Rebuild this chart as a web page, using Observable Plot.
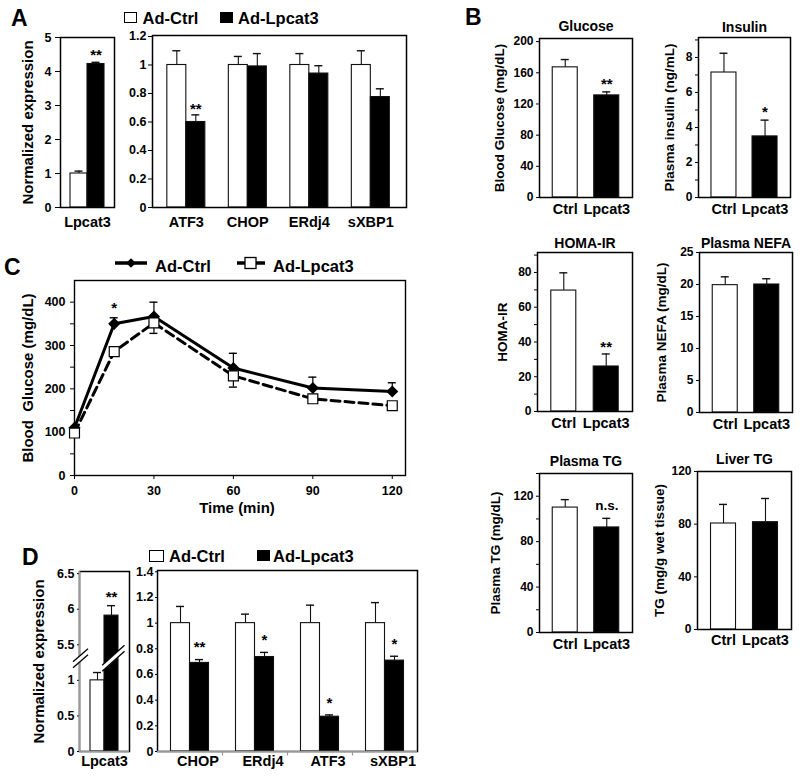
<!DOCTYPE html>
<html><head><meta charset="utf-8">
<script src="https://cdn.jsdelivr.net/npm/d3@7"></script>
<script src="https://cdn.jsdelivr.net/npm/@observablehq/plot@0.6"></script>
<style>
body{margin:0;background:#fff;}
#fig{position:relative;width:800px;height:782px;background:#fff;font-family:"Liberation Sans",Arial,Helvetica,sans-serif;font-weight:bold;color:#000;overflow:hidden;}
.abs{position:absolute;line-height:1;white-space:nowrap;}
.box{position:absolute;box-sizing:border-box;border:1.4px solid #000;}
</style></head><body><div id="fig"></div>
<script>
// ---------------- data ----------------
const groups = ["Ad-Ctrl", "Ad-Lpcat3"];
const groupFill = ["white", "black"];

// Panel A
const aLpcCats = ["Lpcat3"];
const aLpcCtrl = [1.0], aLpcCtrlErr = [0.07];
const aLpcLp = [4.22], aLpcLpErr = [0.05];
const aLpcSig = ["**"];
const aLpcTicks = [0, 1, 2, 3, 4, 5];

const aErCats = ["ATF3", "CHOP", "ERdj4", "sXBP1"];
const aErCtrl = [1, 1, 1, 1];
const aErCtrlErr = [0.10, 0.06, 0.08, 0.10];
const aErLp = [0.60, 0.99, 0.94, 0.775];
const aErLpErr = [0.05, 0.09, 0.055, 0.058];
const aErSig = ["**", "", "", ""];
const aErTicks = [0, 0.2, 0.4, 0.6, 0.8, 1, 1.2];

// Panel B
const bCats = ["Ctrl", "Lpcat3"];
const bGlucose = [167, 131], bGlucoseErr = [10, 4.5], bGlucoseSig = ["", "**"];
const bGlucoseTicks = [0, 40, 80, 120, 160, 200];
const bInsulin = [7.14, 3.49], bInsulinErr = [1.1, 0.93], bInsulinSig = ["", "*"];
const bInsulinTicks = [0, 2, 4, 6, 8], bInsulinMinor = [1, 3, 5, 7, 9];
const bHoma = [69.6, 25.9], bHomaErr = [10.2, 7.2], bHomaSig = ["", "**"];
const bHomaTicks = [0, 20, 40, 60, 80], bHomaMinor = [10, 30, 50, 70, 90];
const bNefa = [19.9, 20], bNefaErr = [1.3, 0.9], bNefaSig = ["", ""];
const bNefaTicks = [0, 5, 10, 15, 20, 25];
const bPtg = [110, 92.5], bPtgErr = [7, 8], bPtgSig = ["", "n.s."];
const bPtgTicks = [0, 40, 80, 120], bPtgMinor = [20, 60, 100, 140];
const bLtg = [80.5, 81.5], bLtgErr = [14.5, 18], bLtgSig = ["", ""];
const bLtgTicks = [0, 40, 80, 120];

// Panel C
const cTimes = [0, 15, 30, 60, 90, 120];
const cCtrl = [110, 350, 367, 248, 202, 194];
const cCtrlErr = [0, 14, 33, 34, 25, 20];
const cLpc = [98, 286, 352, 230, 177, 161];
const cLpcErr = [0, 0, 24, 26, 0, 0];
const cSig = ["", "*", "", "", "", ""];
const cXTicks = [0, 30, 60, 90, 120];
const cYTicks = [0, 100, 200, 300, 400], cYMinor = [50, 150, 250, 350];

// Panel D
const dLpcCats = ["Lpcat3"];
const dLpcCtrl = [1.0], dLpcCtrlErr = [0.11];
const dLpcLp = [5.91], dLpcLpErr = [0.14];
const dLpcSig = ["**"];
const dLpcTickValues = [0, 0.5, 1, 5.5, 6, 6.5];
const dLpcTickLabels = ["0", "0.5", "1", "5.5", "6", "6.5"];
const dBreak = [1.25, 5.25]; // values between these are cut from the axis

const dErCats = ["CHOP", "ERdj4", "ATF3", "sXBP1"];
const dErCtrl = [1, 1, 1, 1];
const dErCtrlErr = [0.13, 0.07, 0.14, 0.16];
const dErLp = [0.69, 0.736, 0.271, 0.708];
const dErLpErr = [0.026, 0.036, 0.014, 0.034];
const dErSig = ["**", "*", "*", "*"];
const dErTicks = [0, 0.2, 0.4, 0.6, 0.8, 1, 1.2, 1.4];

// ---------------- helpers ----------------
const FONT = '"Liberation Sans", Arial, Helvetica, sans-serif';
const fig = document.getElementById("fig");
const M = {l: 70, r: 20, t: 40, b: 40};

function place(svg, x, y) {
  svg.style.position = "absolute";
  svg.style.left = x + "px";
  svg.style.top = y + "px";
  svg.style.overflow = "visible";
  svg.style.background = "transparent";
  svg.style.maxWidth = "none";
  fig.appendChild(svg);
}
const fmtNum = d => String(Math.round(d * 10) / 10);
function majorFmt(major) { return d => major.some(m => Math.abs(m - d) < 1e-9) ? fmtNum(d) : ""; }

function barPanel(o) {
  const [x0, y0, x1, y1] = o.frame;
  const fw = x1 - x0, fh = y1 - y0;
  const xd = o.xDomain;
  const ppu = fw / (xd[1] - xd[0]);
  const yppu = fh / (o.yDomain[1] - o.yDomain[0]);
  const bw = o.barW / ppu;
  const capU = (o.cap ?? 4) / ppu;
  const pos = o.pos ?? (v => v);
  const rows = [];
  if (o.pair) {
    o.cats.forEach((c, i) => {
      rows.push({g: groups[0], v: o.ctrl[i], e: o.ctrlErr[i], x1: i - bw, x2: i, sig: ""});
      rows.push({g: groups[1], v: o.lp[i], e: o.lpErr[i], x1: i, x2: i + bw, sig: o.sig[i]});
    });
  } else {
    o.cats.forEach((c, i) => rows.push({g: groups[i], v: o.vals[i], e: o.err[i], x1: i - bw / 2, x2: i + bw / 2, sig: o.sig[i]}));
  }
  rows.forEach(d => { d.cx = (d.x1 + d.x2) / 2; d.top = d.v + d.e; });
  const errRows = rows.filter(d => d.e > 0);
  const extra = o.extra ? o.extra({bw, ppu, yppu, n: o.cats.length}) : [];
  const marks = [
    Plot.rect(rows, {x1: "x1", x2: "x2", y1: 0, y2: d => pos(d.v), fill: "g", stroke: "#111", strokeWidth: 1.1}),
    Plot.frame({stroke: "#000", strokeWidth: 1.5}),
    ...extra,
    Plot.ruleX(errRows, {x: "cx", y1: d => pos(d.v), y2: d => pos(d.top), stroke: "#111", strokeWidth: 1.1}),
    Plot.ruleY(errRows, {y: d => pos(d.top), x1: d => d.cx - capU, x2: d => d.cx + capU, stroke: "#111", strokeWidth: 1.4}),
    Plot.text(rows.filter(d => d.sig), {x: "cx", y: d => pos(d.top), text: "sig", dy: o.sigDy, fontSize: o.sigSize ?? 15, lineAnchor: "middle"}),
    Plot.text(o.cats, {x: (d, i) => i, text: d => d, frameAnchor: "bottom", dy: o.catDy, dx: o.catDx ?? 0, fontSize: o.catSize ?? 14.5, lineAnchor: "middle", textAnchor: "middle"})
  ];
  if (o.ylabel) marks.push(Plot.text([o.ylabel], {text: d => d, frameAnchor: "left", rotate: -90, dx: o.ylabelDx, fontSize: o.ylabelSize ?? 15, lineAnchor: "middle", textAnchor: "middle"}));
  if (o.title) marks.push(Plot.text([o.title], {text: d => d, frameAnchor: "top", dy: o.titleDy, fontSize: 14, lineAnchor: "middle", textAnchor: "middle"}));
  const svg = Plot.plot({
    width: M.l + fw + M.r, height: M.t + fh + M.b,
    marginLeft: M.l, marginRight: M.r, marginTop: M.t, marginBottom: M.b,
    x: {domain: xd, axis: null},
    y: {domain: o.yDomain, ticks: o.yTicks, tickFormat: o.yFmt, tickSize: o.tickSize ?? 3, tickPadding: o.tickPad ?? 3, label: null},
    color: {domain: groups, range: groupFill},
    style: {fontFamily: FONT, fontSize: (o.tickFont ?? 12.5) + "px", fontWeight: "bold", background: "transparent", overflow: "visible", color: "black"},
    marks
  });
  place(svg, x0 - M.l, y0 - M.t);
}

function addText(txt, left, top, size) {
  const d = document.createElement("div");
  d.className = "abs"; d.textContent = txt;
  d.style.left = left + "px"; d.style.top = top + "px"; d.style.fontSize = size + "px";
  fig.appendChild(d);
}
function addBox(left, top, w, h, fill) {
  const d = document.createElement("div");
  d.className = "box";
  Object.assign(d.style, {left: left + "px", top: top + "px", width: w + "px", height: h + "px", background: fill});
  fig.appendChild(d);
}

// ---------------- Panel A ----------------
addText("A", 11, 6.5, 23);
addBox(124, 11.5, 13, 11.5, groupFill[0]); addText(groups[0], 142.5, 9.6, 16.5);
addBox(220, 11.5, 13, 11.5, groupFill[1]); addText(groups[1], 238, 9.6, 16.5);

barPanel({frame: [60, 37, 114, 207], xDomain: [-0.5, 0.5], yDomain: [0, 5], yTicks: aLpcTicks, yFmt: fmtNum,
  tickSize: 5, tickPad: 4, pair: true, cats: aLpcCats, ctrl: aLpcCtrl, ctrlErr: aLpcCtrlErr, lp: aLpcLp, lpErr: aLpcLpErr, sig: aLpcSig,
  barW: 17, catDy: 14.5, sigDy: -7, ylabel: "Normalized expression", ylabelDx: -32.5});

barPanel({frame: [152, 35, 406, 207], xDomain: [-0.55, 3.58], yDomain: [0, 1.207], yTicks: aErTicks, yFmt: fmtNum,
  tickSize: 4, tickPad: 2, pair: true, cats: aErCats, ctrl: aErCtrl, ctrlErr: aErCtrlErr, lp: aErLp, lpErr: aErLpErr, sig: aErSig,
  barW: 19, catDy: 14.5, sigDy: -6});

// ---------------- Panel B ----------------
addText("B", 465, 5.5, 23);
const bCommon = {xDomain: [-0.62, 1.62], cats: bCats, barW: 25, catDy: 12, sigDy: -7.5, tickFont: 12, tickSize: 3, tickPad: 3, ylabelSize: 13.5};
barPanel({...bCommon, frame: [539, 38, 632, 197], yDomain: [0, 204], yTicks: bGlucoseTicks, yFmt: fmtNum,
  vals: bGlucose, err: bGlucoseErr, sig: bGlucoseSig, title: "Glucose", titleDy: -11.6, ylabel: "Blood Glucose (mg/dL)", ylabelDx: -40, sigDy: -8});
barPanel({...bCommon, frame: [698, 37, 790, 197], yDomain: [0, 9.14], yTicks: [...bInsulinTicks, ...bInsulinMinor], yFmt: majorFmt(bInsulinTicks),
  vals: bInsulin, err: bInsulinErr, sig: bInsulinSig, title: "Insulin", titleDy: -10, ylabel: "Plasma insulin (ng/mL)", ylabelDx: -29});
barPanel({...bCommon, frame: [537, 252, 632, 411], yDomain: [0, 91.5], yTicks: [...bHomaTicks, ...bHomaMinor], yFmt: majorFmt(bHomaTicks),
  vals: bHoma, err: bHomaErr, sig: bHomaSig, title: "HOMA-IR", titleDy: -8.7, ylabel: "HOMA-IR", ylabelDx: -34.5, sigDy: -7});
barPanel({...bCommon, frame: [699, 252, 792, 412], yDomain: [0, 25], yTicks: bNefaTicks, yFmt: fmtNum,
  vals: bNefa, err: bNefaErr, sig: bNefaSig, title: "Plasma NEFA", titleDy: -8.7, ylabel: "Plasma NEFA (mg/dL)", ylabelDx: -38});
barPanel({...bCommon, frame: [539, 473, 632, 632], yDomain: [0, 140], yTicks: [...bPtgTicks, ...bPtgMinor], yFmt: majorFmt(bPtgTicks),
  vals: bPtg, err: bPtgErr, sig: bPtgSig, sigSize: 13.5, sigDy: -12.4, title: "Plasma TG", titleDy: -12, ylabel: "Plasma TG (mg/dL)", ylabelDx: -44});
barPanel({...bCommon, frame: [697, 471, 791, 629], yDomain: [0, 120], yTicks: bLtgTicks, yFmt: fmtNum,
  vals: bLtg, err: bLtgErr, sig: bLtgSig, title: "Liver TG", titleDy: -11.7, ylabel: "TG (mg/g wet tissue)", ylabelDx: -38, catDy: 11});

// ---------------- Panel C ----------------
addText("C", 4, 255.5, 23);
{
  const lg = d3.create("svg").attr("width", 180).attr("height", 20)
    .style("position", "absolute").style("left", "110px").style("top", "253px");
  lg.append("line").attr("x1", 5).attr("x2", 37).attr("y1", 10).attr("y2", 10).attr("stroke", "#000").attr("stroke-width", 3.5);
  lg.append("path").attr("transform", "translate(21,10)").attr("d", d3.symbol(d3.symbolDiamond2, 60)()).attr("fill", "#000");
  lg.append("line").attr("x1", 127).attr("x2", 155).attr("y1", 10).attr("y2", 10).attr("stroke", "#000").attr("stroke-width", 3.5);
  lg.append("rect").attr("x", 135).attr("y", 4.5).attr("width", 11).attr("height", 11).attr("fill", "#fff").attr("stroke", "#000").attr("stroke-width", 1.3);
  fig.appendChild(lg.node());
  addText(groups[0], 155, 258, 16.5);
  addText(groups[1], 273, 258, 16.5);

  const [x0, y0, x1, y1] = [74, 280, 405, 475];
  const fw = x1 - x0, fh = y1 - y0;
  const xd = [0, 125];
  const capT = 4 / (fw / (xd[1] - xd[0]));
  const ctrlRows = cTimes.map((t, i) => ({t, v: cCtrl[i], e: cCtrlErr[i], sig: cSig[i]}));
  const lpRows = cTimes.map((t, i) => ({t, v: cLpc[i], e: cLpcErr[i]}));
  const ce = ctrlRows.filter(d => d.e > 0), le = lpRows.filter(d => d.e > 0);
  const svg = Plot.plot({
    width: M.l + fw + M.r, height: M.t + fh + M.b,
    marginLeft: M.l, marginRight: M.r, marginTop: M.t, marginBottom: M.b,
    x: {domain: xd, ticks: cXTicks, tickFormat: fmtNum, tickSize: 4, tickPadding: 7, label: null},
    y: {domain: [0, 450], ticks: [...cYTicks, ...cYMinor], tickFormat: majorFmt(cYTicks), tickSize: 4, tickPadding: 5, label: null},
    style: {fontFamily: FONT, fontSize: "12.5px", fontWeight: "bold", background: "transparent", overflow: "visible", color: "black"},
    marks: [
      Plot.frame({stroke: "#000", strokeWidth: 1.4}),
      Plot.ruleX(ce, {x: "t", y1: "v", y2: d => d.v + d.e, stroke: "#000", strokeWidth: 1.2}),
      Plot.ruleY(ce, {y: d => d.v + d.e, x1: d => d.t - capT, x2: d => d.t + capT, stroke: "#000", strokeWidth: 1.4}),
      Plot.ruleX(le, {x: "t", y1: "v", y2: d => d.v - d.e, stroke: "#000", strokeWidth: 1.2}),
      Plot.ruleY(le, {y: d => d.v - d.e, x1: d => d.t - capT, x2: d => d.t + capT, stroke: "#000", strokeWidth: 1.4}),
      Plot.line(lpRows, {x: "t", y: "v", stroke: "#000", strokeWidth: 3, strokeDasharray: "9,5"}),
      Plot.line(ctrlRows, {x: "t", y: "v", stroke: "#000", strokeWidth: 3}),
      Plot.dot(ctrlRows, {x: "t", y: "v", symbol: "diamond2", r: 4.5, fill: "#000", stroke: "#000"}),
      Plot.dot(lpRows, {x: "t", y: "v", symbol: "square", r: 5.6, fill: "#fff", stroke: "#000", strokeWidth: 1.2}),
      Plot.text(ctrlRows.filter(d => d.sig), {x: "t", y: d => d.v + d.e, text: "sig", dy: -10, fontSize: 15, lineAnchor: "middle"}),
      Plot.text(["Time (min)"], {text: d => d, frameAnchor: "bottom", dy: 33, dx: -3, fontSize: 15, lineAnchor: "middle", textAnchor: "middle"}),
      Plot.text(["Blood  Glucose (mg/dL)"], {text: d => d, frameAnchor: "left", rotate: -90, dx: -46.5, fontSize: 15, lineAnchor: "middle", textAnchor: "middle"})
    ]
  });
  place(svg, x0 - M.l, y0 - M.t);
}

// ---------------- Panel D ----------------
addText("D", 22, 545.5, 23);
addBox(149, 550, 14.5, 12, groupFill[0]); addText(groups[0], 169, 548, 16.5);
addBox(257, 550, 13, 11, groupFill[1]); addText(groups[1], 273, 548, 16.5);

{
  const cut = dBreak[1] - dBreak[0];
  const pos = v => v >= dBreak[1] ? v - cut : v;
  const tickPos = dLpcTickValues.map(pos);
  barPanel({frame: [79, 571, 129, 751], xDomain: [-0.5, 0.5], yDomain: [0, 2.53], yTicks: tickPos,
    yFmt: d => { const k = tickPos.findIndex(p => Math.abs(p - d) < 1e-9); return k >= 0 ? dLpcTickLabels[k] : ""; },
    tickSize: 2, tickPad: 3, pos, pair: true, cats: dLpcCats, ctrl: dLpcCtrl, ctrlErr: dLpcCtrlErr, lp: dLpcLp, lpErr: dLpcLpErr, sig: dLpcSig,
    barW: 14, catDy: 9.5, sigDy: -8, ylabel: "Normalized expression", ylabelDx: -40.7,
    extra: ({bw, ppu, yppu}) => {
      const c = dBreak[0] + 0.06;
      const segs = [
        {x1: -2.3 / ppu, y1: c - 10 / yppu, x2: bw + 6 / ppu, y2: c + 10 / yppu},
        {x1: -0.5 - 6.5 / ppu, y1: c - 6.5 / yppu, x2: -0.5 + 8.5 / ppu, y2: c + 6.5 / yppu}
      ];
      const ch = {x1: "x1", y1: "y1", x2: "x2", y2: "y2"};
      return [
        Plot.ruleY([0], {stroke: "#999", strokeWidth: 1.6}),
        Plot.ruleX([-0.5], {stroke: "#999", strokeWidth: 1.6}),
        Plot.link(segs, {...ch, stroke: "white", strokeWidth: 5}),
        Plot.link(segs, {...ch, stroke: "#000", strokeWidth: 1.3, dy: -3}),
        Plot.link(segs, {...ch, stroke: "#000", strokeWidth: 1.3, dy: 3})
      ];
    }});
}

barPanel({frame: [157, 570, 417, 751], xDomain: [-0.5, 3.5], yDomain: [0, 1.41], yTicks: dErTicks, yFmt: fmtNum,
  tickSize: 2, tickPad: 2, pair: true, cats: dErCats, ctrl: dErCtrl, ctrlErr: dErCtrlErr, lp: dErLp, lpErr: dErLpErr, sig: dErSig,
  barW: 19, catDy: 9.5, catDx: 8, sigDy: -12,
  extra: ({n}) => [
    Plot.ruleY([0], {stroke: "#999", strokeWidth: 1.6}),
    Plot.ruleX(d3.range(1, n).map(i => i - 0.5), {y1: 0, y2: -0.035, stroke: "#999", strokeWidth: 1.2})
  ]});
</script>
</body></html>
